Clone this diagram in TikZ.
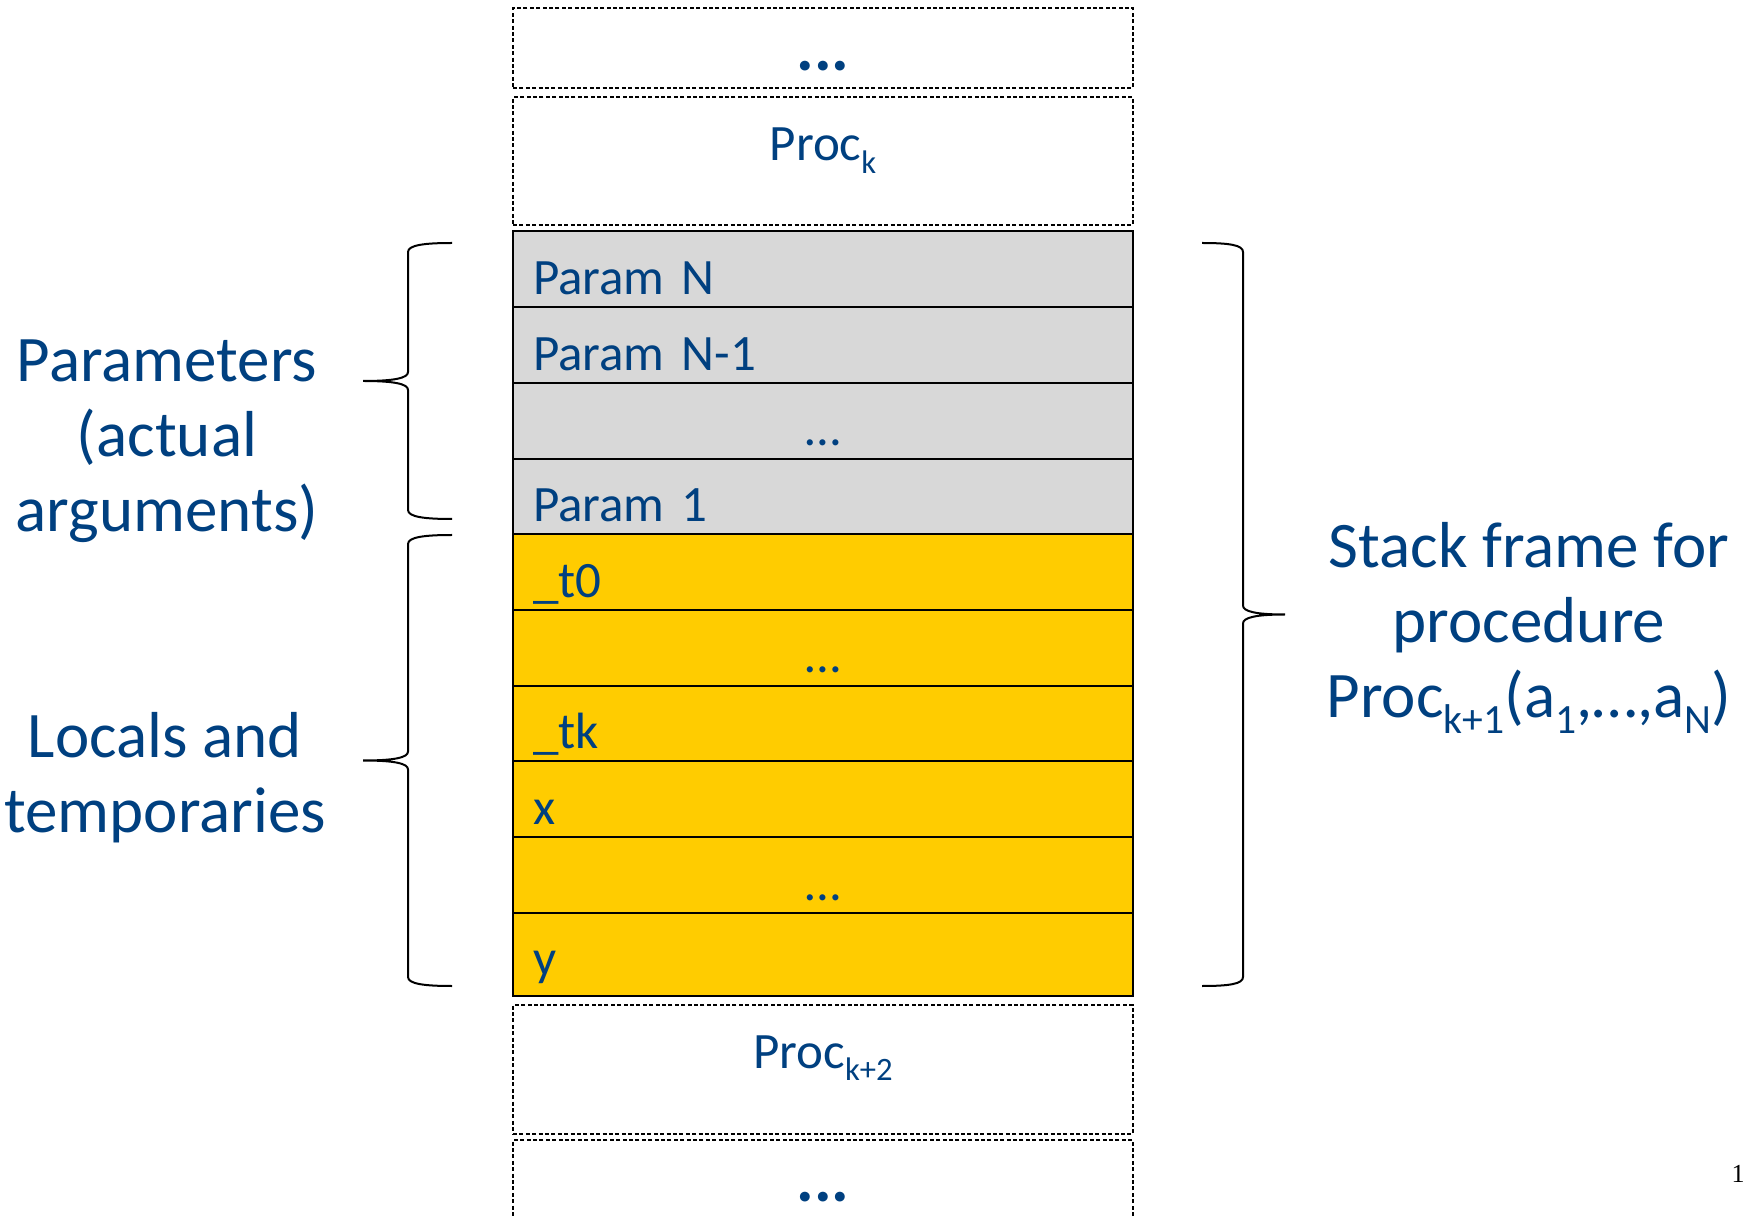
\documentclass[tikz,border=0pt]{standalone}
\usepackage{fontspec}
\setmainfont{Carlito}
\newfontfamily\pagefont{Liberation Serif}
\usepackage{graphicx}
\definecolor{txtblue}{HTML}{004080}
\definecolor{paramgray}{HTML}{D8D8D8}
\definecolor{localyellow}{HTML}{FFCC00}
\newcommand\mysub[1]{\raisebox{-0.24em}{\scalebox{0.64}{#1}}}
\tikzset{
  rowbox/.style={draw=black, line width=1pt, inner xsep=10pt, inner ysep=0pt,
    text width=290pt, align=left, text height=31.5pt, text depth=6.35pt,
    font=\fontsize{25.5}{30}\selectfont, text=txtblue},
  midrow/.style={rowbox, align=center},
  parambox/.style={fill=paramgray},
  localbox/.style={fill=localyellow},
  dashbox/.style={draw=black, line width=0.75pt, dash pattern=on 2pt off 1.2pt,
    inner xsep=0pt, inner ysep=0pt, text width=310pt, align=center,
    font=\fontsize{25.5}{30}\selectfont, text=txtblue},
  bigdots/.style={font=\fontsize{33}{40}\selectfont\bfseries},
  biglabel/.style={inner sep=0pt, align=center, text=txtblue,
    font=\fontsize{32.5}{37.5}\selectfont},
  bracepath/.style={draw=black, line width=1pt}
}
\begin{document}
\begin{tikzpicture}[x=0.5pt,y=-0.5pt]
\useasboundingbox (0,0) rectangle (1745,1218);

% dashed neighbour frames
\node[dashbox, bigdots, text height=31.25pt, text depth=8.75pt] (topdots) at (823,48) {...};
\node[dashbox, text height=32pt, text depth=32pt] (prock) at (823,161) {Proc\mysub{k}};
\node[dashbox, text height=31.5pt, text depth=33pt] (prockk) at (823,1069.5) {Proc\mysub{k+2}};
\node[dashbox, bigdots, text height=30.5pt, text depth=17.5pt] (botdots) at (823,1188) {...};

% parameters
\node[rowbox, parambox] (r1) at (823,269.35) {Param N};
\node[rowbox, parambox] (r2) at (823,345.05) {Param N-1};
\node[midrow, parambox] (r3) at (823,420.75) {…};
\node[rowbox, parambox] (r4) at (823,496.45) {Param 1};
% locals and temporaries
\node[rowbox, localbox] (r5) at (823,572.15) {\_t0};
\node[midrow, localbox] (r6) at (823,647.85) {…};
\node[rowbox, localbox] (r7) at (823,723.55) {\_tk};
\node[rowbox, localbox] (r8) at (823,799.25) {x};
\node[midrow, localbox] (r9) at (823,874.95) {…};
\node[rowbox, localbox, text depth=10.1pt] (r10) at (823,954.4) {y};

% left brace: parameters
\draw[bracepath] (452,243) .. controls (425,243) and (408,245) .. (408,252)
  -- (408,372) .. controls (408,378) and (395,381) .. (363,381)
  .. controls (395,381) and (408,384) .. (408,390)
  -- (408,510) .. controls (408,517) and (425,519) .. (452,519);
% left brace: locals
\draw[bracepath] (452,535) .. controls (425,535) and (408,537) .. (408,544)
  -- (408,751.5) .. controls (408,757.5) and (395,760.5) .. (363,760.5)
  .. controls (395,760.5) and (408,763.5) .. (408,769.5)
  -- (408,977) .. controls (408,984) and (425,986) .. (452,986);
% right brace: whole frame
\draw[bracepath] (1202,243) .. controls (1229,243) and (1243,245) .. (1243,252)
  -- (1243,605.5) .. controls (1243,611.5) and (1256,614.5) .. (1285,614.5)
  .. controls (1256,614.5) and (1243,617.5) .. (1243,623.5)
  -- (1243,977) .. controls (1243,984) and (1229,986) .. (1202,986);

% labels
\node[biglabel] (lparams) at (167,441) {Parameters\\(actual\\arguments)};
\node[biglabel] (llocals) at (165,778) {Locals and\\temporaries};
\node[biglabel] (rframe) at (1529,628) {Stack frame for\\procedure\\Proc\mysub{k+1}(a\mysub{1},…,a\mysub{N})};

\node[inner sep=0pt, anchor=base, font=\pagefont\fontsize{13}{15}\selectfont] (pagenum) at (1738,1182) {1};
\end{tikzpicture}
\end{document}
